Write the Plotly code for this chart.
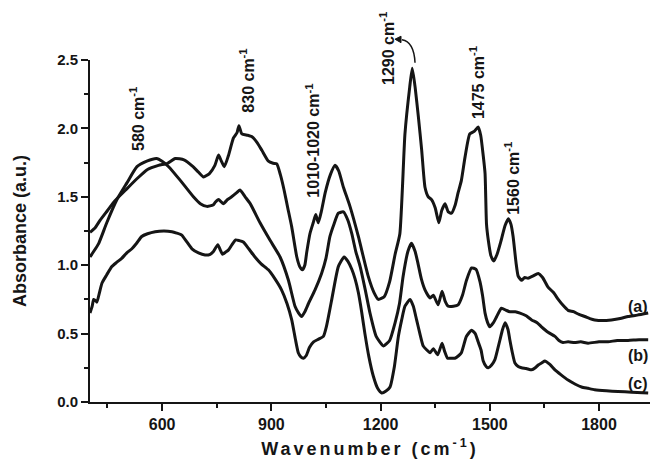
import plotly.graph_objects as go

# ---- data (wavenumber cm^-1, absorbance a.u.) ----
wn_a = [402, 415, 430, 450, 470, 500, 530, 560, 590, 615, 636, 660, 685, 700, 714, 730, 745, 755, 763, 771,
        782, 796, 806, 811, 819, 835, 846, 860, 874, 892, 905, 915, 925, 935, 945, 956, 970, 978, 985, 992,
        997, 1006, 1015, 1022, 1029, 1038, 1048, 1062, 1075, 1085, 1098, 1116, 1139, 1166, 1182, 1194, 1210,
        1225, 1240, 1253, 1267, 1280, 1287, 1295, 1304, 1313, 1322, 1331, 1340, 1350, 1360, 1368, 1377, 1386,
        1395, 1405, 1413, 1422, 1432, 1445, 1458, 1468, 1475, 1482, 1487, 1491, 1496, 1503, 1511, 1520, 1530,
        1542, 1551, 1558, 1564, 1572, 1578, 1587, 1596, 1605, 1618, 1633, 1645, 1660, 1675, 1688, 1700, 1715,
        1730, 1745, 1761, 1775, 1788, 1810, 1834, 1858, 1880, 1905, 1935]
abs_a = [1.24, 1.27, 1.33, 1.40, 1.47, 1.55, 1.63, 1.70, 1.73, 1.745, 1.78, 1.77, 1.72, 1.68, 1.645, 1.67, 1.73,
         1.805, 1.76, 1.72, 1.80, 1.93, 1.97, 2.02, 1.96, 1.95, 1.94, 1.90, 1.84, 1.76, 1.745, 1.74, 1.66, 1.55,
         1.42, 1.28, 1.06, 0.99, 0.966, 1.00, 1.09, 1.23, 1.31, 1.37, 1.31, 1.40, 1.53, 1.66, 1.73, 1.69, 1.57,
         1.43, 1.21, 0.92, 0.80, 0.75, 0.77, 0.88, 1.08, 1.23, 1.96, 2.30, 2.44, 2.30, 2.08, 1.84, 1.57, 1.50,
         1.48, 1.42, 1.31, 1.40, 1.45, 1.39, 1.38, 1.44, 1.53, 1.62, 1.79, 1.96, 1.98, 2.01, 1.95, 1.80, 1.67,
         1.30, 1.18, 1.07, 1.03, 1.08, 1.17, 1.29, 1.34, 1.30, 1.21, 1.02, 0.92, 0.89, 0.91, 0.905, 0.92, 0.94,
         0.91, 0.84, 0.80, 0.75, 0.71, 0.67, 0.66, 0.64, 0.625, 0.61, 0.60, 0.595, 0.60, 0.61, 0.625, 0.635, 0.65]

wn_b = [402, 412, 426, 448, 476, 503, 531, 558, 585, 600, 618, 650, 686, 705, 723, 740, 746, 755, 768, 780,
        791, 805, 814, 828, 842, 869, 897, 924, 947, 965, 975, 983, 992, 1002, 1020, 1038, 1050, 1061, 1072,
        1084, 1098, 1110, 1121, 1132, 1144, 1158, 1171, 1188, 1208, 1225, 1240, 1252, 1262, 1275, 1285, 1295,
        1303, 1312, 1322, 1336, 1345, 1358, 1369, 1377, 1386, 1400, 1413, 1425, 1436, 1450, 1462, 1473, 1480,
        1487, 1494, 1500, 1510, 1519, 1532, 1545, 1555, 1570, 1583, 1600, 1615, 1630, 1642, 1660, 1679, 1690,
        1701, 1715, 1733, 1750, 1770, 1800, 1825, 1850, 1880, 1910, 1935]
abs_b = [1.06, 1.10, 1.16, 1.31, 1.48, 1.60, 1.72, 1.76, 1.78, 1.76, 1.72, 1.62, 1.50, 1.45, 1.43, 1.44, 1.46,
         1.48, 1.45, 1.48, 1.50, 1.53, 1.55, 1.50, 1.45, 1.31, 1.18, 1.06, 0.89, 0.70, 0.65, 0.625, 0.66, 0.72,
         0.82, 0.94, 1.05, 1.21, 1.30, 1.38, 1.39, 1.33, 1.23, 1.10, 0.99, 0.82, 0.65, 0.48, 0.41, 0.45, 0.58,
         0.72, 0.92, 1.10, 1.16, 1.10, 1.01, 0.90, 0.82, 0.76, 0.78, 0.71, 0.81, 0.74, 0.70, 0.70, 0.71, 0.78,
         0.89, 0.98, 0.97, 0.88, 0.78, 0.65, 0.58, 0.55, 0.58, 0.625, 0.685, 0.67, 0.66, 0.66, 0.65, 0.63, 0.60,
         0.58, 0.55, 0.51, 0.48, 0.45, 0.435, 0.44, 0.435, 0.44, 0.43, 0.44, 0.44, 0.45, 0.45, 0.455, 0.455]

wn_c = [402, 408, 412, 418, 421, 428, 435, 448, 462, 475, 489, 503, 517, 530, 544, 560, 581, 605, 627, 640,
        654, 668, 682, 700, 718, 732, 741, 753, 760, 766, 774, 782, 792, 802, 812, 823, 838, 855, 872, 892,
        910, 928, 943, 956, 966, 974, 981, 988, 996, 1005, 1016, 1030, 1043, 1052, 1066, 1075, 1084, 1100,
        1110, 1121, 1130, 1139, 1148, 1157, 1168, 1180, 1192, 1203, 1215, 1226, 1238, 1249, 1258, 1267, 1281,
        1290, 1299, 1308, 1317, 1327, 1336, 1345, 1357, 1369, 1376, 1384, 1395, 1404, 1415, 1422, 1436, 1450,
        1460, 1468, 1476, 1482, 1490, 1496, 1505, 1514, 1521, 1528, 1535, 1542, 1550, 1555, 1562, 1569, 1578,
        1587, 1600, 1615, 1625, 1633, 1645, 1651, 1665, 1679, 1695, 1715, 1735, 1752, 1770, 1788, 1820, 1852,
        1890, 1935]
abs_c = [0.65, 0.70, 0.75, 0.74, 0.73, 0.80, 0.87, 0.93, 0.99, 1.02, 1.05, 1.09, 1.12, 1.16, 1.21, 1.23, 1.245,
         1.25, 1.245, 1.235, 1.22, 1.17, 1.12, 1.09, 1.075, 1.08, 1.10, 1.15, 1.11, 1.08, 1.095, 1.11, 1.15,
         1.185, 1.18, 1.17, 1.12, 1.06, 1.01, 0.966, 0.90, 0.82, 0.72, 0.60, 0.46, 0.36, 0.33, 0.32, 0.34, 0.40,
         0.44, 0.46, 0.48, 0.56, 0.75, 0.88, 0.99, 1.06, 1.03, 0.97, 0.90, 0.80, 0.66, 0.50, 0.33, 0.19, 0.10,
         0.066, 0.08, 0.11, 0.26, 0.48, 0.60, 0.70, 0.75, 0.70, 0.60, 0.50, 0.41, 0.38, 0.36, 0.39, 0.345, 0.43,
         0.37, 0.32, 0.32, 0.32, 0.34, 0.36, 0.48, 0.525, 0.50, 0.44, 0.38, 0.30, 0.26, 0.25, 0.27, 0.31, 0.38,
         0.455, 0.53, 0.58, 0.53, 0.455, 0.36, 0.285, 0.26, 0.25, 0.245, 0.235, 0.25, 0.27, 0.29, 0.30, 0.275,
         0.235, 0.20, 0.16, 0.13, 0.11, 0.10, 0.09, 0.082, 0.077, 0.072, 0.066]

series_labels = ["(a)", "(b)", "(c)"]
label_y = [0.70, 0.34, 0.135]

peak_labels = ["580 cm<sup>-1</sup>", "830 cm<sup>-1</sup>", "1010-1020 cm<sup>-1</sup>",
               "1290 cm<sup>-1</sup>", "1475 cm<sup>-1</sup>", "1560 cm<sup>-1</sup>"]
peak_label_x = [531, 833, 1012, 1218, 1465, 1561]
peak_label_y = [1.82, 2.10, 1.48, 2.30, 2.05, 1.35]

x_ticks = [600, 900, 1200, 1500, 1800]
y_ticks = [0.0, 0.5, 1.0, 1.5, 2.0, 2.5]

FONT = "Liberation Sans, Arial, sans-serif"
INK = "#151515"

fig = go.Figure()
for wn, ab in [(wn_a, abs_a), (wn_b, abs_b), (wn_c, abs_c)]:
    fig.add_trace(go.Scatter(x=wn, y=ab, mode="lines",
                             line=dict(color=INK, width=3, shape="spline", smoothing=0.5),
                             showlegend=False, hoverinfo="skip"))

annotations = []
for t, xv, yv in zip(peak_labels, peak_label_x, peak_label_y):
    annotations.append(dict(x=xv, y=yv, xref="x", yref="y", text="<b>" + t + "</b>",
                            textangle=-90, showarrow=False, xanchor="center", yanchor="bottom",
                            font=dict(family=FONT, size=16, color=INK)))
for t, yv in zip(series_labels, label_y):
    annotations.append(dict(x=1940, y=yv, xref="x", yref="y", text="<b>" + t + "</b>",
                            showarrow=False, xanchor="right", yanchor="middle",
                            font=dict(family=FONT, size=16, color=INK)))

shapes = [
    # curved arrow pointing from the 1290 peak toward its label
    dict(type="path", xref="paper", yref="paper",
         path="M 0.5804 0.9921 Q 0.5786 1.0535 0.5571 1.0594",
         line=dict(color=INK, width=1.5)),
    dict(type="path", xref="paper", yref="paper",
         path="M 0.5446 1.0608 L 0.5554 1.0696 L 0.5554 1.0506 Z",
         line=dict(color=INK, width=1), fillcolor=INK),
]

fig.update_layout(
    width=650, height=459,
    margin=dict(l=90, r=0, t=60, b=57),
    paper_bgcolor="white", plot_bgcolor="white",
    annotations=annotations, shapes=shapes,
    font=dict(family=FONT, color=INK),
)
fig.update_xaxes(
    range=[402, 1940], tickvals=x_ticks, ticktext=["<b>%d</b>" % v for v in x_ticks],
    showgrid=False, zeroline=False, showline=True, linecolor=INK, linewidth=2,
    ticks="outside", ticklen=7, tickwidth=2, tickcolor=INK,
    minor=dict(dtick=150, tick0=450, ticks="outside", ticklen=4, tickwidth=2, tickcolor=INK),
    tickfont=dict(family=FONT, size=16, color=INK),
    title=dict(text='<b><span style="letter-spacing:3px">Wavenumber (cm<sup>-1</sup>)</span></b>',
               font=dict(family=FONT, size=18, color=INK), standoff=13),
)
fig.update_yaxes(
    range=[0, 2.5], tickvals=y_ticks, ticktext=["<b>%.1f</b>" % v for v in y_ticks],
    showgrid=False, zeroline=False, showline=True, linecolor=INK, linewidth=2,
    ticks="outside", ticklen=7, tickwidth=2, tickcolor=INK,
    minor=dict(dtick=0.25, tick0=0, ticks="outside", ticklen=4, tickwidth=2, tickcolor=INK),
    tickfont=dict(family=FONT, size=15, color=INK),
    title=dict(text="<b>Absorbance (a.u.)</b>", font=dict(family=FONT, size=18, color=INK), standoff=26),
)

fig.write_html("out.html")
